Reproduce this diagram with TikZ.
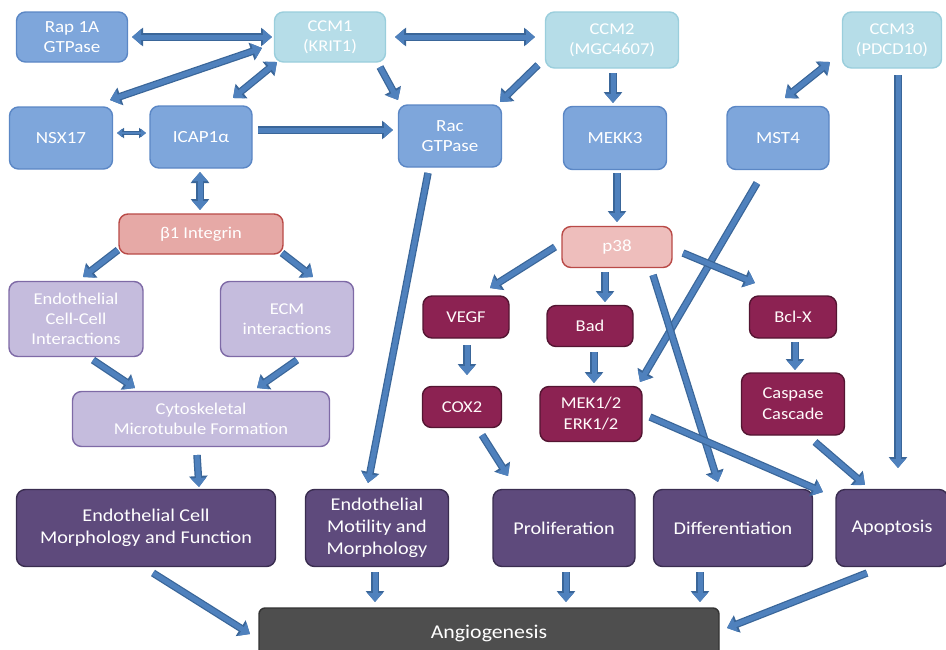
\documentclass[tikz,border=0pt]{standalone}
\usepackage{fontspec}
\setmainfont{Carlito}[FakeStretch=1.12]
\usetikzlibrary{arrows.meta,calc}
\definecolor{bluefill}{HTML}{7EA6DB}
\definecolor{blueline}{HTML}{5B87C5}
\definecolor{cyanfill}{HTML}{B6DDE8}
\definecolor{cyanline}{HTML}{9ACEDC}
\definecolor{pinkfill}{HTML}{E6A9A6}
\definecolor{pinkline}{HTML}{B94A47}
\definecolor{pthfill}{HTML}{EEBEBC}
\definecolor{lavfill}{HTML}{C5BCDD}
\definecolor{lavline}{HTML}{7E6AA6}
\definecolor{maroonfill}{HTML}{8C2252}
\definecolor{maroonline}{HTML}{541532}
\definecolor{purplefill}{HTML}{5E4A7C}
\definecolor{purpleline}{HTML}{3A2D50}
\definecolor{greyfill}{HTML}{4E4E4E}
\definecolor{arrowblue}{HTML}{4F81BD}
\definecolor{arrowdark}{HTML}{3A6699}
\tikzset{
  box/.style={rounded corners=9pt, line width=1.4pt, align=center, text=white, inner sep=0pt},
  bluebox/.style={box, fill=bluefill, draw=blueline, font=\fontsize{17}{20}\selectfont},
  cyanbox/.style={box, fill=cyanfill, draw=cyanline, font=\fontsize{16.5}{20}\selectfont},
  pinkbox/.style={box, fill=pinkfill, draw=pinkline, font=\fontsize{16.5}{20}\selectfont},
  pthbox/.style={box, fill=pthfill, draw=pinkline, font=\fontsize{17}{20}\selectfont},
  lavbox/.style={box, fill=lavfill, draw=lavline, font=\fontsize{16.5}{20}\selectfont},
  marbox/.style={box, fill=maroonfill, draw=maroonline, text=white!92!pink, font=\fontsize{16.5}{21}\selectfont},
  purbox/.style={box, fill=purplefill, draw=purpleline, font=\fontsize{18}{22}\selectfont},
  angbox/.style={box, rounded corners=6pt, fill=greyfill, draw=black!80},
  arr/.style={draw=arrowblue, line width=5pt, -{Triangle[width=15pt,length=9pt]},
    preaction={draw=arrowdark, line width=7.5pt, -{Triangle[width=18pt,length=11pt]}}},
  darr/.style={draw=arrowblue, line width=5pt, {Triangle[width=15pt,length=9pt]}-{Triangle[width=15pt,length=9pt]},
    preaction={draw=arrowdark, line width=7.5pt, {Triangle[width=18pt,length=11pt]}-{Triangle[width=18pt,length=11pt]}}},
  tdarr/.style={draw=arrowblue, line width=2.5pt, {Triangle[width=8pt,length=5pt]}-{Triangle[width=8pt,length=5pt]},
    preaction={draw=arrowdark, line width=4pt, {Triangle[width=10pt,length=7pt]}-{Triangle[width=10pt,length=7pt]}}},
}
\begin{document}
\begin{tikzpicture}[x=1pt,y=-1pt]
\useasboundingbox (0,0) rectangle (946,649);
\clip (0,0) rectangle (946,649);
% row 1
\node[bluebox, minimum width=111, minimum height=50] (rap) at (72,37) {Rap 1A\\GTPase};
\node[cyanbox, minimum width=111, minimum height=50] (ccm1) at (330,37) {CCM1\\(KRIT1)};
\node[cyanbox, minimum width=133, minimum height=56] (ccm2) at (612,40) {CCM2\\(MGC4607)};
\node[cyanbox, minimum width=99, minimum height=56] (ccm3) at (892,40) {CCM3\\(PDCD10)};
% row 2
\node[bluebox, minimum width=103, minimum height=62] (nsx) at (61,138) {NSX17};
\node[bluebox, minimum width=102, minimum height=62] (icap) at (201,137) {ICAP1α};
\node[bluebox, minimum width=103, minimum height=62] (rac) at (450,136) {Rac\\GTPase};
\node[bluebox, minimum width=103, minimum height=63] (mekk) at (615,138) {MEKK3};
\node[bluebox, minimum width=102, minimum height=63] (mst) at (778,138) {MST4};
% integrin / p38
\node[pinkbox, minimum width=164, minimum height=40] (b1) at (201,234) {β1 Integrin};
\node[pthbox, minimum width=110, minimum height=41] (p38) at (617,247) {p38};
% lavender
\node[lavbox, minimum width=134, minimum height=75] (ecc) at (76,319) {Endothelial\\Cell-Cell\\Interactions};
\node[lavbox, minimum width=133, minimum height=75] (ecm) at (287,319) {ECM\\interactions};
\node[lavbox, minimum width=257, minimum height=55] (cyto) at (201,419) {Cytoskeletal\\Microtubule Formation};
% maroon
\node[marbox, minimum width=86, minimum height=42] (vegf) at (466,317) {VEGF};
\node[marbox, minimum width=86, minimum height=41] (bad) at (590,326) {Bad};
\node[marbox, minimum width=87, minimum height=42] (bclx) at (793,317) {Bcl-X};
\node[marbox, minimum width=79, minimum height=41] (cox) at (462,407) {COX2};
\node[marbox, minimum width=102, minimum height=55] (mek) at (591,414) {MEK1/2\\ERK1/2};
\node[marbox, minimum width=103, minimum height=62] (casp) at (793,404) {Caspase\\Cascade};
% outcomes
\node[purbox, minimum width=259, minimum height=77] (ecmf) at (146,528) {Endothelial Cell\\Morphology and Function};
\node[purbox, minimum width=143, minimum height=77] (mot) at (377,528) {Endothelial\\Motility and\\Morphology};
\node[purbox, minimum width=142, minimum height=77] (prol) at (564,528) {Proliferation};
\node[purbox, minimum width=159, minimum height=77] (diff) at (733,528) {Differentiation};
\node[purbox, minimum width=112, minimum height=77] (apop) at (892,528) {Apoptosis};
\node[angbox, minimum width=460, minimum height=60] (angio) at (489,638) {};
\node[text=white, font=\fontsize{19.5}{23}\selectfont] (angtxt) at (489,633) {Angiogenesis};
% connectors
\draw[darr] ($(rap)+(60,0)$) -- ($(ccm1)+(-58,0)$);
\draw[darr] ($(ccm1)+(65,0)$) -- ($(ccm2)+(-77,-3)$);
\draw[darr] ($(ccm1)+(-68,11)$) -- ($(nsx)+(49,-38)$);
\draw[darr] ($(ccm1)+(-53,25)$) -- ($(icap)+(32,-39)$);
\draw[arr] ($(ccm1)+(50,30)$) -- ($(rac)+(-52,-36)$);
\draw[arr] ($(ccm2)+(-74,25)$) -- ($(rac)+(50,-34)$);
\draw[arr] ($(ccm2)+(1,33)$) -- ($(mekk)+(-2,-35)$);
\draw[darr] ($(ccm3)+(-62,22)$) -- ($(mst)+(7,-40)$);
\draw[arr] ($(ccm3)+(6,35)$) -- ($(apop)+(6,-60)$);
\draw[tdarr] ($(nsx)+(56,-5)$) -- ($(icap)+(-55,-4)$);
\draw[arr] ($(icap)+(57,-7)$) -- ($(rac)+(-57,-6)$);
\draw[darr] ($(icap)+(-1,35)$) -- ($(b1)+(-1,-24)$);
\draw[arr] ($(rac)+(-22,37)$) -- ($(mot)+(-9,-45)$);
\draw[arr] ($(mekk)+(2,35)$) -- ($(p38)+(0,-25)$);
\draw[arr] ($(mst)+(-21,45)$) -- ($(mek)+(49,-32)$);
\draw[arr] ($(b1)+(-83,16)$) -- ($(ecc)+(7,-42)$);
\draw[arr] ($(b1)+(81,19)$) -- ($(ecm)+(26,-42)$);
\draw[arr] ($(ecc)+(17,41)$) -- ($(cyto)+(-66,-31)$);
\draw[arr] ($(ecm)+(10,41)$) -- ($(cyto)+(56,-31)$);
\draw[arr] ($(cyto)+(-4,36)$) -- ($(ecmf)+(53,-41)$);
\draw[arr] ($(p38)+(-62,0)$) -- ($(vegf)+(24,-29)$);
\draw[arr] ($(p38)+(-12,25)$) -- ($(bad)+(15,-24)$);
\draw[arr] ($(p38)+(66,6)$) -- ($(bclx)+(-38,-34)$);
\draw[arr] ($(p38)+(36,28)$) -- ($(diff)+(-15,-46)$);
\draw[arr] ($(vegf)+(1,28)$) -- ($(cox)+(5,-32)$);
\draw[arr] ($(bad)+(4,26)$) -- ($(mek)+(3,-31)$);
\draw[arr] ($(bclx)+(2,25)$) -- ($(casp)+(2,-34)$);
\draw[arr] ($(cox)+(20,28)$) -- ($(prol)+(-56,-52)$);
\draw[arr] ($(mek)+(59,3)$) -- ($(apop)+(-69,-36)$);
\draw[arr] ($(casp)+(22,38)$) -- ($(apop)+(-27,-43)$);
\draw[arr] ($(ecmf)+(7,45)$) -- ($(angio)+(-239,-4)$);
\draw[arr] ($(mot)+(-2,44)$) -- ($(angio)+(-114,-36)$);
\draw[arr] ($(prol)+(2,44)$) -- ($(angio)+(77,-36)$);
\draw[arr] ($(diff)+(-33,44)$) -- ($(angio)+(211,-36)$);
\draw[arr] ($(apop)+(-25,45)$) -- ($(angio)+(238,-10)$);
\end{tikzpicture}
\end{document}
